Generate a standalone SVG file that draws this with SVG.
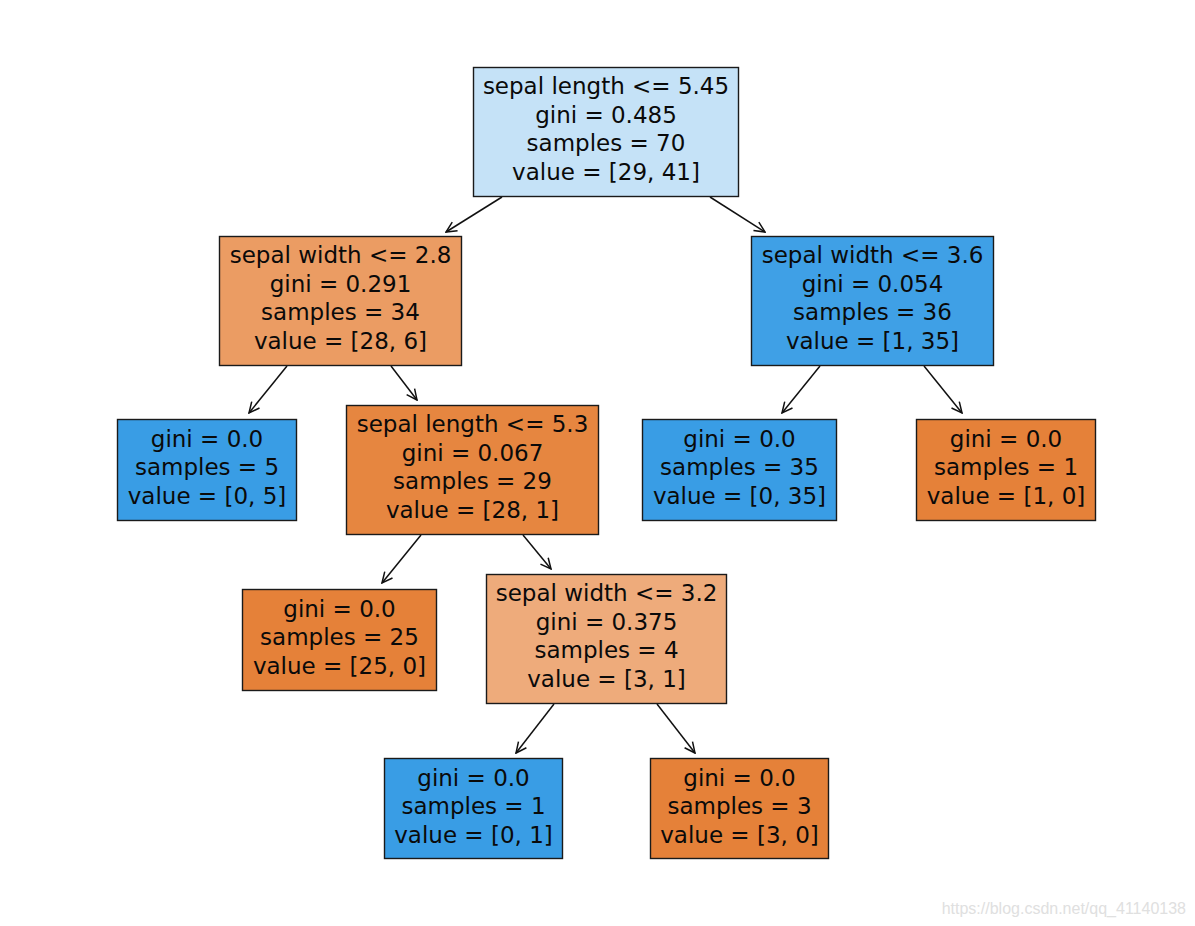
<svg xmlns="http://www.w3.org/2000/svg" width="1195" height="926" viewBox="0 0 1195 926">
<style>
.box{stroke:#1a1a1a;stroke-width:1.4}
.t{font-family:"DejaVu Sans",sans-serif;font-size:23px;fill:#0a0a0a;text-anchor:middle}
.edge{stroke:#111;stroke-width:1.5;fill:none;marker-end:url(#arr)}
.wm{font-family:"Liberation Sans",Arial,sans-serif;font-size:16px;fill:#e0e0e0;text-anchor:end}
</style>
<defs>
<marker id="arr" viewBox="-12 -6 13 12" refX="0" refY="0" markerWidth="13" markerHeight="12" markerUnits="userSpaceOnUse" orient="auto">
<path d="M-10.5,-5 L0,0 L-10.5,5" fill="none" stroke="#111" stroke-width="1.5"/>
</marker>
</defs>
<rect width="1195" height="926" fill="#ffffff"/>
<g id="connectors">
<line class="edge" x1="502" y1="197" x2="446" y2="232"/>
<line class="edge" x1="710" y1="197" x2="765" y2="232"/>
<line class="edge" x1="287" y1="366" x2="249" y2="413"/>
<line class="edge" x1="391" y1="366" x2="417" y2="400"/>
<line class="edge" x1="820" y1="366" x2="782" y2="413"/>
<line class="edge" x1="924" y1="366" x2="962" y2="413"/>
<line class="edge" x1="421" y1="535" x2="382" y2="583"/>
<line class="edge" x1="523" y1="535" x2="551" y2="569"/>
<line class="edge" x1="554" y1="704" x2="516" y2="753"/>
<line class="edge" x1="657" y1="704" x2="695" y2="753"/>
</g>
<g id="n0">
<rect class="box" x="473.5" y="67.5" width="265" height="129" fill="#c5e2f7"/>
<text class="t" x="606" y="94">sepal length &lt;= 5.45</text>
<text class="t" x="606" y="122.7">gini = 0.485</text>
<text class="t" x="606" y="151.4">samples = 70</text>
<text class="t" x="606" y="180">value = [29, 41]</text>
</g>
<g id="n1">
<rect class="box" x="219.5" y="236.5" width="242" height="129" fill="#eb9c63"/>
<text class="t" x="340.5" y="263">sepal width &lt;= 2.8</text>
<text class="t" x="340.5" y="291.7">gini = 0.291</text>
<text class="t" x="340.5" y="320.4">samples = 34</text>
<text class="t" x="340.5" y="349">value = [28, 6]</text>
</g>
<g id="n2">
<rect class="box" x="117.5" y="419.5" width="179" height="101" fill="#399de5"/>
<text class="t" x="207" y="446.7">gini = 0.0</text>
<text class="t" x="207" y="475.4">samples = 5</text>
<text class="t" x="207" y="504">value = [0, 5]</text>
</g>
<g id="n3">
<rect class="box" x="346.5" y="405.5" width="252" height="129" fill="#e68640"/>
<text class="t" x="472.5" y="432">sepal length &lt;= 5.3</text>
<text class="t" x="472.5" y="460.7">gini = 0.067</text>
<text class="t" x="472.5" y="489.4">samples = 29</text>
<text class="t" x="472.5" y="518">value = [28, 1]</text>
</g>
<g id="n4">
<rect class="box" x="242.5" y="589.5" width="194" height="101" fill="#e58139"/>
<text class="t" x="339.5" y="616.7">gini = 0.0</text>
<text class="t" x="339.5" y="645.4">samples = 25</text>
<text class="t" x="339.5" y="674">value = [25, 0]</text>
</g>
<g id="n5">
<rect class="box" x="486.5" y="574.5" width="240" height="129" fill="#eeab7b"/>
<text class="t" x="606.5" y="601">sepal width &lt;= 3.2</text>
<text class="t" x="606.5" y="629.7">gini = 0.375</text>
<text class="t" x="606.5" y="658.4">samples = 4</text>
<text class="t" x="606.5" y="687">value = [3, 1]</text>
</g>
<g id="n6">
<rect class="box" x="384.5" y="758.5" width="178" height="100" fill="#399de5"/>
<text class="t" x="473.5" y="785.7">gini = 0.0</text>
<text class="t" x="473.5" y="814.4">samples = 1</text>
<text class="t" x="473.5" y="843">value = [0, 1]</text>
</g>
<g id="n7">
<rect class="box" x="650.5" y="758.5" width="178" height="100" fill="#e58139"/>
<text class="t" x="739.5" y="785.7">gini = 0.0</text>
<text class="t" x="739.5" y="814.4">samples = 3</text>
<text class="t" x="739.5" y="843">value = [3, 0]</text>
</g>
<g id="n8">
<rect class="box" x="751.5" y="236.5" width="242" height="129" fill="#3fa0e6"/>
<text class="t" x="872.5" y="263">sepal width &lt;= 3.6</text>
<text class="t" x="872.5" y="291.7">gini = 0.054</text>
<text class="t" x="872.5" y="320.4">samples = 36</text>
<text class="t" x="872.5" y="349">value = [1, 35]</text>
</g>
<g id="n9">
<rect class="box" x="642.5" y="419.5" width="194" height="101" fill="#399de5"/>
<text class="t" x="739.5" y="446.7">gini = 0.0</text>
<text class="t" x="739.5" y="475.4">samples = 35</text>
<text class="t" x="739.5" y="504">value = [0, 35]</text>
</g>
<g id="n10">
<rect class="box" x="916.5" y="419.5" width="179" height="101" fill="#e58139"/>
<text class="t" x="1006" y="446.7">gini = 0.0</text>
<text class="t" x="1006" y="475.4">samples = 1</text>
<text class="t" x="1006" y="504">value = [1, 0]</text>
</g>
<text class="wm" x="1186" y="914">https://blog.csdn.net/qq_41140138</text>
</svg>
